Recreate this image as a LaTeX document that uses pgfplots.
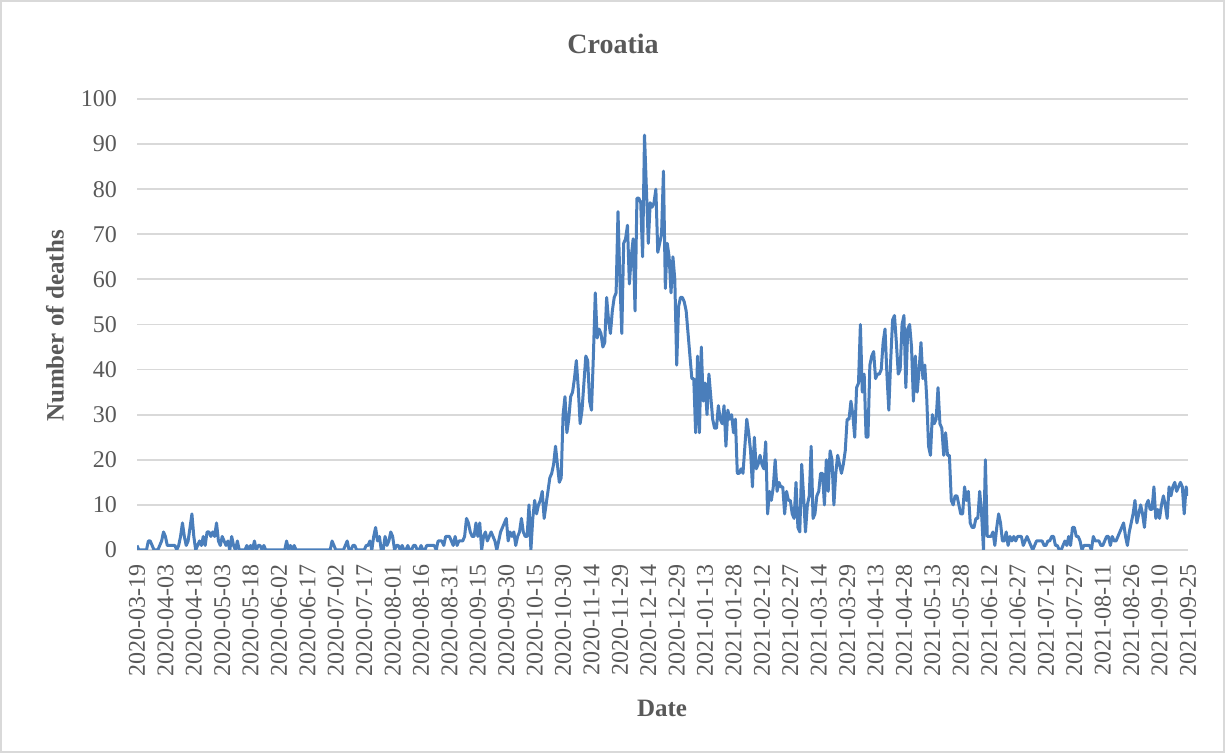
\documentclass[border=0pt]{standalone}
\usepackage{pgfplots}
\pgfplotsset{compat=1.18}
\usepackage{pgfplotstable}
\usepackage{fontspec}
\setmainfont{Liberation Serif}
\definecolor{linecol}{HTML}{4A7EBB}
\definecolor{gridcol}{HTML}{D9D9D9}
\definecolor{txtcol}{HTML}{595959}

\pgfplotstableread[row sep=\\]{
d\\
1\\0\\0\\0\\0\\0\\2\\2\\1\\0\\
0\\0\\1\\2\\4\\3\\1\\1\\1\\1\\
1\\0\\1\\3\\6\\3\\1\\2\\5\\8\\
3\\0\\1\\2\\1\\3\\1\\4\\4\\3\\
4\\3\\6\\2\\1\\3\\2\\1\\2\\0\\
3\\1\\0\\2\\0\\0\\0\\0\\1\\0\\
1\\0\\2\\0\\1\\1\\0\\1\\0\\0\\
0\\0\\0\\0\\0\\0\\0\\0\\0\\2\\
0\\1\\0\\1\\0\\0\\0\\0\\0\\0\\
0\\0\\0\\0\\0\\0\\0\\0\\0\\0\\
0\\0\\0\\2\\1\\0\\0\\0\\0\\0\\
1\\2\\0\\0\\1\\1\\0\\0\\0\\0\\
0\\1\\1\\2\\0\\3\\5\\2\\3\\0\\
0\\3\\1\\2\\4\\3\\0\\1\\1\\0\\
1\\0\\0\\1\\0\\0\\1\\1\\0\\0\\
1\\0\\0\\1\\1\\1\\1\\1\\0\\2\\
2\\2\\1\\3\\3\\3\\2\\1\\3\\1\\
2\\2\\2\\3\\7\\6\\4\\3\\3\\6\\
3\\6\\0\\3\\4\\2\\3\\4\\3\\2\\
0\\2\\4\\5\\6\\7\\2\\4\\3\\4\\
1\\3\\4\\7\\4\\3\\3\\10\\0\\7\\
11\\8\\10\\11\\13\\7\\10\\13\\16\\17\\
19\\23\\19\\15\\16\\30\\34\\26\\29\\34\\
35\\38\\42\\36\\28\\31\\37\\43\\42\\33\\
31\\43\\57\\47\\49\\48\\45\\46\\56\\51\\
48\\53\\56\\57\\75\\60\\48\\68\\69\\72\\
59\\65\\69\\53\\78\\78\\77\\65\\92\\80\\
68\\77\\76\\77\\80\\66\\68\\70\\84\\58\\
68\\65\\57\\65\\60\\41\\54\\56\\56\\55\\
53\\48\\43\\38\\38\\26\\43\\26\\45\\33\\
37\\30\\39\\34\\29\\27\\27\\32\\29\\28\\
32\\23\\31\\29\\30\\26\\29\\17\\17\\18\\
17\\23\\29\\26\\22\\14\\25\\18\\19\\21\\
19\\18\\24\\8\\13\\11\\14\\20\\13\\15\\
14\\14\\8\\13\\11\\11\\8\\7\\15\\5\\
4\\19\\12\\4\\10\\12\\23\\7\\8\\12\\
13\\17\\17\\10\\20\\13\\22\\20\\10\\17\\
21\\19\\17\\19\\22\\29\\29\\33\\30\\25\\
36\\37\\50\\35\\39\\25\\25\\41\\43\\44\\
38\\39\\39\\40\\46\\49\\39\\31\\42\\51\\
52\\46\\39\\40\\50\\52\\36\\49\\50\\45\\
33\\43\\35\\40\\46\\38\\41\\34\\23\\21\\
30\\28\\29\\36\\28\\27\\21\\26\\21\\21\\
11\\10\\12\\12\\10\\8\\8\\14\\11\\13\\
6\\5\\5\\7\\7\\13\\8\\0\\20\\3\\
3\\3\\4\\1\\5\\8\\6\\2\\2\\4\\
1\\3\\2\\3\\2\\3\\3\\3\\1\\2\\
3\\2\\1\\0\\1\\2\\2\\2\\2\\1\\
1\\2\\2\\3\\3\\1\\1\\0\\0\\1\\
2\\1\\3\\1\\5\\5\\3\\3\\2\\0\\
1\\1\\1\\1\\0\\3\\2\\2\\2\\1\\
1\\2\\3\\3\\1\\3\\2\\2\\3\\4\\
5\\6\\3\\1\\4\\6\\8\\11\\6\\8\\
10\\8\\5\\10\\11\\9\\9\\14\\7\\9\\
7\\10\\12\\10\\7\\14\\12\\14\\15\\13\\
14\\15\\14\\8\\14\\12\\
}\deaths

\begin{document}
\begin{tikzpicture}
\path[use as bounding box] (-68.5pt,-101.5pt) rectangle (544pt,275pt);
\draw[gridcol, line width=0.75pt] (-68pt,-101pt) rectangle (543.5pt,274.5pt);
\begin{axis}[
  at={(0pt,0pt)}, anchor=south west,
  scale only axis, width=525.5pt, height=225.5pt,
  xmin=0, xmax=555, ymin=0, ymax=100,
  xtick={0,15,...,555},
  xticklabels={2020-03-19,2020-04-03,2020-04-18,2020-05-03,2020-05-18,2020-06-02,2020-06-17,2020-07-02,2020-07-17,2020-08-01,2020-08-16,2020-08-31,2020-09-15,2020-09-30,2020-10-15,2020-10-30,2020-11-14,2020-11-29,2020-12-14,2020-12-29,2021-01-13,2021-01-28,2021-02-12,2021-02-27,2021-03-14,2021-03-29,2021-04-13,2021-04-28,2021-05-13,2021-05-28,2021-06-12,2021-06-27,2021-07-12,2021-07-27,2021-08-11,2021-08-26,2021-09-10,2021-09-25},
  ytick={0,10,...,100},
  ymajorgrids, grid style={gridcol, line width=0.9pt},
  axis line style={draw=none},
  major tick length=0pt,
  tick label style={font=\fontsize{12}{14}\selectfont, text=txtcol},
  /pgf/number format/assume math mode=true,
  yticklabel style={xshift=-6.5pt},
  xticklabel style={rotate=90, anchor=east, xshift=-3.5pt},
]
\addplot[linecol, line width=1.5pt, line join=round] table[x expr=\coordindex, y=d] {\deaths};
\end{axis}
\node[font=\fontsize{14}{17}\selectfont\bfseries, text=txtcol] at (238pt,253pt) {Croatia};
\node[font=\fontsize{12.5}{15}\selectfont\bfseries, text=txtcol, rotate=90] at (-41pt,112pt) {Number of deaths};
\node[font=\fontsize{12.5}{15}\selectfont\bfseries, text=txtcol] at (262.5pt,-79pt) {Date};
\end{tikzpicture}
\end{document}
